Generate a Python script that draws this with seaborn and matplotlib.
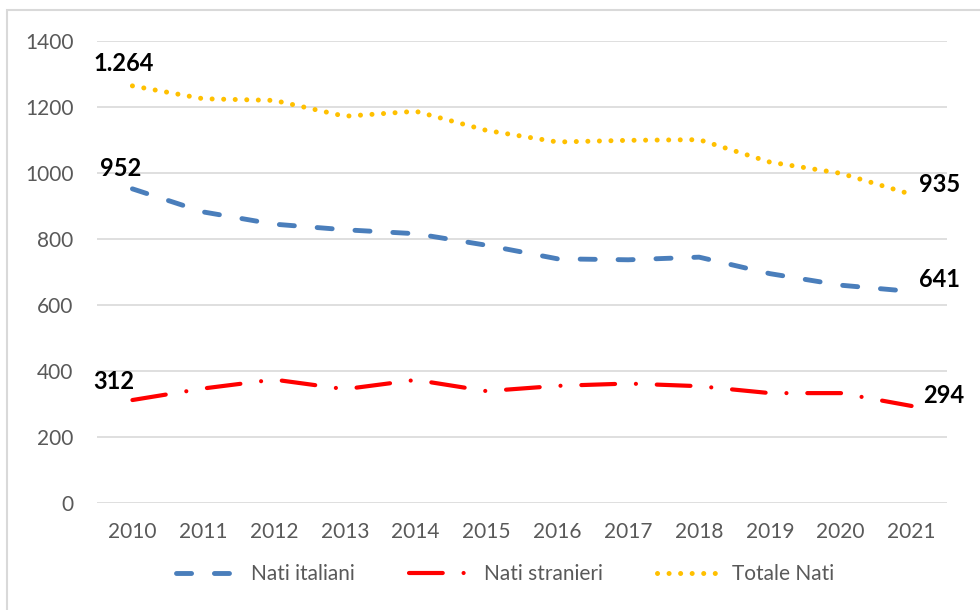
import matplotlib
matplotlib.use("Agg")
import matplotlib.pyplot as plt
import seaborn as sns
import pandas as pd
from matplotlib.lines import Line2D
from matplotlib.patches import Rectangle

years = ["2010", "2011", "2012", "2013", "2014", "2015", "2016", "2017", "2018", "2019", "2020", "2021"]
nati_italiani = [952, 882, 845, 828, 816, 781, 740, 737, 745, 695, 660, 641]
nati_stranieri = [312, 347, 374, 345, 373, 339, 355, 362, 354, 333, 333, 294]
totale_nati = [1264, 1225, 1220, 1172, 1187, 1129, 1094, 1099, 1101, 1033, 999, 935]
series_names = ["Nati italiani", "Nati stranieri", "Totale Nati"]
first_labels = ["952", "312", "1.264"]
last_labels = ["641", "294", "935"]

sns.set_theme(style="white")
plt.rcParams["font.family"] = ["Lato", "DejaVu Sans"]

df = pd.DataFrame({
    "year": years * 3,
    "x": list(range(len(years))) * 3,
    "value": nati_italiani + nati_stranieri + totale_nati,
    "serie": [series_names[0]] * len(years) + [series_names[1]] * len(years) + [series_names[2]] * len(years),
})

colors = {"Nati italiani": "#4A7EBB", "Nati stranieri": "#FF0000", "Totale Nati": "#FFC000"}
styles = {
    "Nati italiani": dict(lw=3.5, dashes=(3.1, 4.7)),
    "Nati stranieri": dict(lw=3.0, dashes=(8.1, 5.0, 0.01, 5.0)),
    "Totale Nati": dict(lw=3.6, dashes=(0.01, 2.3)),
}

fig = plt.figure(figsize=(9.8, 6.1), dpi=100)
ax = fig.add_axes([97 / 980, 1 - 503 / 610, 850 / 980, 462 / 610])

for name in series_names:
    sub = df[df["serie"] == name]
    sns.lineplot(data=sub, x="x", y="value", ax=ax, color=colors[name],
                 lw=styles[name]["lw"], legend=False)
    ln = ax.lines[-1]
    ln.set_dashes(styles[name]["dashes"])
    ln.set_dash_capstyle("round")
    ln.set_solid_capstyle("round")

ax.set_xlim(-0.5, len(years) - 0.5)
ax.set_ylim(0, 1400)
ax.set_yticks(range(0, 1401, 200))
ax.set_xticks(range(len(years)))
ax.set_xticklabels(years)
ax.yaxis.grid(True, color="#D9D9D9", lw=1.2)
ax.xaxis.grid(False)
for s in ax.spines.values():
    s.set_visible(False)
ax.tick_params(axis="both", length=0, labelsize=15, labelcolor="#595959")
ax.tick_params(axis="y", pad=17)
ax.tick_params(axis="x", pad=14)
ax.set_xlabel("")
ax.set_ylabel("")

series_values = [nati_italiani, nati_stranieri, totale_nati]
first_offsets = [(-12, 13), (-19, 11), (-9, 15)]
last_offsets = [(7, 12), (12, 10), (7, 10)]
for vals, fl, ll, fo, lo in zip(series_values, first_labels, last_labels, first_offsets, last_offsets):
    ax.annotate(fl, (0, vals[0]), xytext=fo, textcoords="offset pixels",
                ha="center", va="baseline", fontsize=17, fontweight="bold", color="black")
    ax.annotate(ll, (len(years) - 1, vals[-1]), xytext=lo, textcoords="offset pixels",
                ha="left", va="center", fontsize=17, fontweight="bold", color="black")

handles = []
for name in series_names:
    h = Line2D([0], [0], color=colors[name], lw=styles[name]["lw"],
               dashes=styles[name]["dashes"], dash_capstyle="round")
    handles.append(h)
leg = fig.legend(handles, series_names, loc="center", bbox_to_anchor=(505 / 980, 1 - 574 / 610),
                 ncol=3, frameon=False, fontsize=15, handlelength=3.0, columnspacing=2.6,
                 handletextpad=0.6)
for t in leg.get_texts():
    t.set_color("#595959")

fig.patches.append(Rectangle((7 / 980, -0.1), 1.2, 1 - 10 / 610 + 0.1, transform=fig.transFigure,
                             fill=False, edgecolor="#D9D9D9", lw=1.5))

fig.savefig("out.png", dpi=100)
